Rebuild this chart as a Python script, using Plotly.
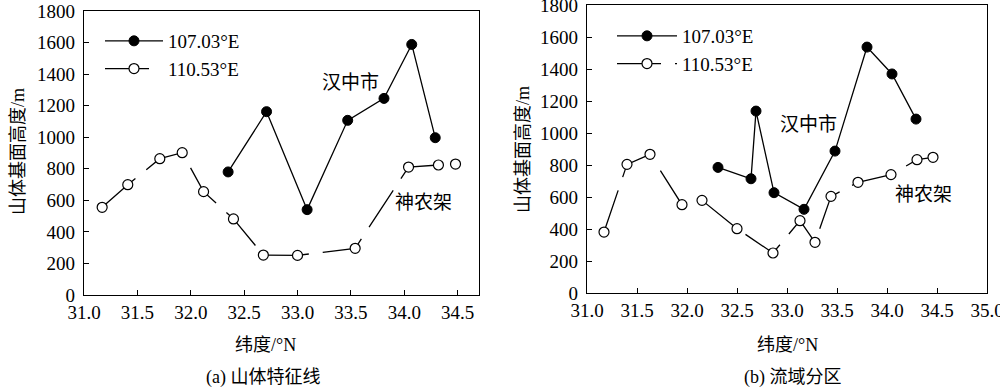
import plotly.graph_objects as go

# ---------- data ----------
# (a) 山体特征线
a_lat_107 = [32.35, 32.71, 33.09, 33.47, 33.81, 34.07, 34.29]
a_val_107 = [780, 1162, 541, 1107, 1246, 1588, 997]
a_lat_110 = [31.17, 31.41, 31.71, 31.92, 32.12, 32.40, 32.68, 33.00, 33.54, 34.04, 34.32, 34.48]
a_val_110 = [556, 699, 864, 902, 655, 482, 253, 251, 296, 811, 824, 830]

# (b) 流域分区
b_lat_107 = [32.31, 32.64, 32.69, 32.87, 33.17, 33.48, 33.80, 34.05, 34.29]
b_val_107 = [785, 714, 1137, 627, 523, 887, 1537, 1369, 1087]
b_lat_110 = [31.17, 31.40, 31.63, 31.95, 32.15, 32.50, 32.86, 33.13, 33.28, 33.44, 33.71, 34.04, 34.30, 34.46]
b_val_110 = [381, 804, 867, 552, 579, 402, 250, 452, 317, 604, 692, 740, 833, 848]

name_107 = "107.03°E"
name_110 = "110.53°E"
a_ticks = [31.0, 31.5, 32.0, 32.5, 33.0, 33.5, 34.0, 34.5]
b_ticks = [31.0, 31.5, 32.0, 32.5, 33.0, 33.5, 34.0, 34.5, 35.0]
y_ticks = [0, 200, 400, 600, 800, 1000, 1200, 1400, 1600, 1800]

FONT = "Liberation Serif, Times New Roman, Noto Sans CJK SC"
W, H = 1000, 388

fig = go.Figure()

def add_pair(x107, y107, x110, y110, xa, ya, leg):
    fig.add_trace(go.Scatter(
        x=x107, y=y107, name=name_107, mode="lines+markers",
        line=dict(color="black", width=1.3),
        marker=dict(symbol="circle", size=10, color="black", line=dict(color="black", width=1)),
        xaxis=xa, yaxis=ya, legend=leg))
    fig.add_trace(go.Scatter(
        x=x110, y=y110, name=name_110, mode="lines+markers",
        line=dict(color="black", width=1.3, dash="44px,14px"),
        marker=dict(symbol="circle", size=10, color="white", line=dict(color="black", width=1.2)),
        xaxis=xa, yaxis=ya, legend=leg))

add_pair(a_lat_107, a_val_107, a_lat_110, a_val_110, "x", "y", "legend")
add_pair(b_lat_107, b_val_107, b_lat_110, b_val_110, "x2", "y2", "legend2")

axis_common = dict(
    showline=True, linecolor="black", linewidth=1.3, mirror=True,
    ticks="inside", ticklen=5, tickcolor="black", tickwidth=1,
    showgrid=False, zeroline=False, automargin=False,
    ticklabeloverflow="allow",
    tickfont=dict(family=FONT, size=19, color="black"),
)

fig.update_layout(
    width=W, height=H,
    margin=dict(l=0, r=0, t=0, b=0, autoexpand=False),
    paper_bgcolor="white", plot_bgcolor="white",
    font=dict(family=FONT, size=18, color="black"),
    xaxis=dict(domain=[84 / W, 479 / W], range=[31.0, 34.7], tickvals=a_ticks,
               tickformat=".1f", anchor="y", **axis_common),
    yaxis=dict(domain=[1 - 295 / H, 1 - 11 / H], range=[0, 1800], tickvals=y_ticks,
               anchor="x", ticklabelstandoff=4, **axis_common),
    xaxis2=dict(domain=[587 / W, 987 / W], range=[31.0, 35.0], tickvals=b_ticks,
                tickformat=".1f", anchor="y2", **axis_common),
    yaxis2=dict(domain=[1 - 293 / H, 1 - 5 / H], range=[0, 1800], tickvals=y_ticks,
                anchor="x2", ticklabelstandoff=4, **axis_common),
    legend=dict(x=100 / W, y=1 - 22 / H, xanchor="left", yanchor="top",
                bgcolor="rgba(0,0,0,0)", font=dict(family=FONT, size=19),
                itemwidth=58, tracegroupgap=0),
    legend2=dict(x=612 / W, y=1 - 17 / H, xanchor="left", yanchor="top",
                 bgcolor="rgba(0,0,0,0)", font=dict(family=FONT, size=19),
                 itemwidth=60, tracegroupgap=0),
    showlegend=True,
)

def ann(text, x, y, size=18, angle=0):
    fig.add_annotation(text=text, x=x / W, y=1 - y / H, xref="paper", yref="paper",
                       showarrow=False, xanchor="center", yanchor="middle",
                       textangle=angle, font=dict(family=FONT, size=size, color="black"))

# in-plot labels
ann("汉中市", 350, 82, 19)
ann("神农架", 423, 202, 19)
ann("汉中市", 808, 125, 19)
ann("神农架", 923, 194, 19)
# axis titles
ann("山体基面高度/m", 18, 152, 18, -90)
ann("山体基面高度/m", 523, 150, 18, -90)
ann("纬度/°N", 265, 345, 18)
ann("纬度/°N", 787, 345, 18)
# subplot captions
ann("(a) 山体特征线", 263, 377, 18)
ann("(b) 流域分区", 793, 377, 18)

fig.write_html("out.html", config={"displayModeBar": False},
               post_script="document.body.style.margin='0';document.body.style.overflow='hidden';")
